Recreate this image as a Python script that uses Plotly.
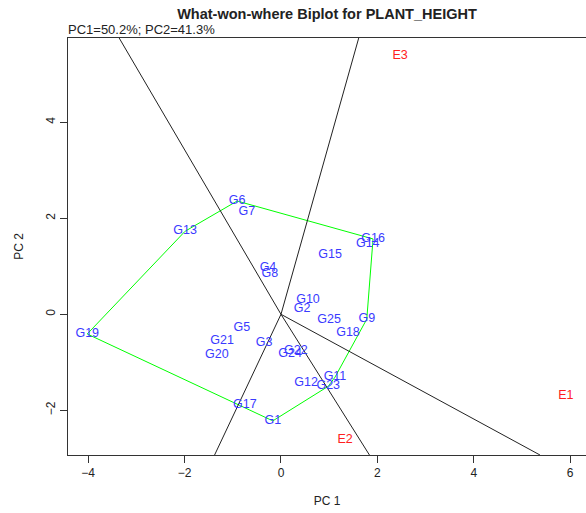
import numpy as np
import plotly.graph_objects as go

# Genotype scores on the first two principal components
genotypes = ["G1", "G2", "G3", "G4", "G5", "G6", "G7", "G8", "G9", "G10",
             "G11", "G12", "G13", "G14", "G15", "G16", "G17", "G18", "G19",
             "G20", "G21", "G22", "G23", "G24", "G25"]
gen_pc1 = [-0.17, 0.44, -0.35, -0.27, -0.81, -0.91, -0.71, -0.23, 1.78, 0.56,
           1.12, 0.52, -1.99, 1.80, 1.02, 1.91, -0.75, 1.39, -4.02,
           -1.33, -1.22, 0.31, 0.98, 0.19, 1.00]
gen_pc2 = [-2.22, 0.11, -0.60, 0.96, -0.29, 2.36, 2.13, 0.84, -0.10, 0.30,
           -1.31, -1.43, 1.73, 1.46, 1.24, 1.57, -1.89, -0.39, -0.41,
           -0.85, -0.56, -0.76, -1.50, -0.83, -0.12]

# Environment scores
environments = ["E1", "E2", "E3"]
env_pc1 = [5.91, 1.33, 2.47]
env_pc2 = [-1.70, -2.62, 5.38]

# Convex hull of the genotypes (polygon order) and the sides that get sector rays
hull_order = ["G19", "G13", "G6", "G16", "G9", "G11", "G23", "G1"]
ray_sides = [("G13", "G6"), ("G6", "G16"), ("G9", "G11"), ("G23", "G1"), ("G1", "G19")]

x_range = [-4.419, 6.328]
y_range = [-2.931, 5.756]

pos = {g: np.array([a, b]) for g, a, b in zip(genotypes, gen_pc1, gen_pc2)}

fig = go.Figure()

# hull polygon
hx = [pos[g][0] for g in hull_order] + [pos[hull_order[0]][0]]
hy = [pos[g][1] for g in hull_order] + [pos[hull_order[0]][1]]
fig.add_trace(go.Scatter(x=hx, y=hy, mode="lines",
                         line=dict(color="#00FF00", width=1), hoverinfo="skip"))


def ray_end(d):
    # extend a ray from the origin along d to the edge of the plotting region
    ts = []
    for k, rng in ((0, x_range), (1, y_range)):
        if d[k] > 0:
            ts.append(rng[1] / d[k])
        elif d[k] < 0:
            ts.append(rng[0] / d[k])
    t = min(ts)
    return d * t


for a, b in ray_sides:
    A, B = pos[a], pos[b]
    v = B - A
    t = -np.dot(A, v) / np.dot(v, v)
    foot = A + t * v
    end = ray_end(foot)
    fig.add_trace(go.Scatter(x=[0, end[0]], y=[0, end[1]], mode="lines",
                             line=dict(color="#222222", width=1), hoverinfo="skip"))

font_family = "Liberation Sans, Arial, sans-serif"

fig.add_trace(go.Scatter(x=gen_pc1, y=gen_pc2, mode="text", text=genotypes,
                         textposition="middle center",
                         textfont=dict(family=font_family, size=12.5, color="#3a3aff"),
                         hoverinfo="text"))
fig.add_trace(go.Scatter(x=env_pc1, y=env_pc2, mode="text", text=environments,
                         textposition="middle center",
                         textfont=dict(family=font_family, size=12.5, color="#ff2020"),
                         hoverinfo="text"))

fig.update_layout(
    width=586, height=513,
    margin=dict(l=68, r=0, t=38, b=58),
    paper_bgcolor="white", plot_bgcolor="white",
    showlegend=False,
    font=dict(family=font_family, color="#222222"),
    title=dict(text="<b>What-won-where Biplot for PLANT_HEIGHT</b>",
               x=0.5, xref="paper", xanchor="center",
               y=1 - 14 / 513, yref="container", yanchor="middle",
               font=dict(family=font_family, size=14.5, color="#222222")),
    annotations=[dict(text="PC1=50.2%; PC2=41.3%", xref="paper", yref="paper",
                      x=0, y=1, xanchor="left", yanchor="bottom", showarrow=False,
                      xshift=-2, yshift=-1,
                      font=dict(family=font_family, size=13, color="#222222"))],
)

fig.update_xaxes(range=x_range, showgrid=False, zeroline=False,
                 showline=True, linecolor="#333333", linewidth=1, mirror=True,
                 ticks="outside", ticklen=7, tickcolor="#333333",
                 tickvals=[-4, -2, 0, 2, 4, 6], tickfont=dict(size=12),
                 title=dict(text="PC 1", font=dict(size=12), standoff=17))
fig.update_yaxes(range=y_range, showgrid=False, zeroline=False,
                 showline=True, linecolor="#333333", linewidth=1,
                 ticks="outside", ticklen=7, tickcolor="#333333",
                 tickvals=[-2, 0, 2, 4], tickangle=-90, tickfont=dict(size=12),
                 title=dict(text="PC 2", font=dict(size=12), standoff=18))

fig.write_html("out.html")
